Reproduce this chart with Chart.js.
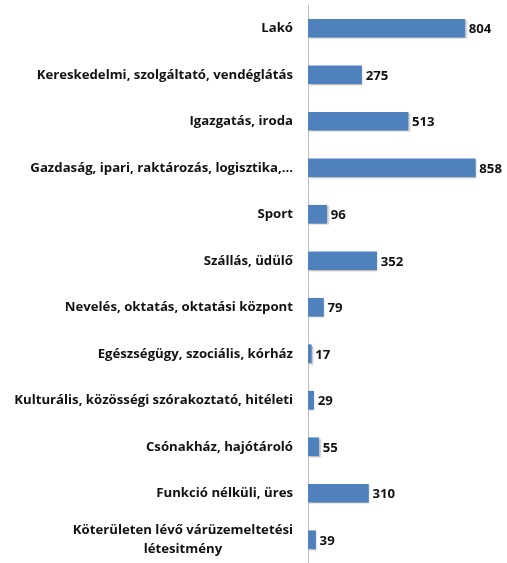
<!DOCTYPE html>
<html>
<head>
<meta charset="utf-8">
<script src="https://cdn.jsdelivr.net/npm/chart.js@4/dist/chart.umd.min.js"></script>
<style>
  html, body { margin: 0; padding: 0; background: #fff; }
  #wrap { width: 507px; height: 563px; }
</style>
</head>
<body>
<div id="wrap"><canvas id="chart1"></canvas></div>
<script>
const kategoriak = [
    'Lakó',
    'Kereskedelmi, szolgáltató, vendéglátás',
    'Igazgatás, iroda',
    'Gazdaság, ipari, raktározás, logisztika,…',
    'Sport',
    'Szállás, üdülő',
    'Nevelés, oktatás, oktatási központ',
    'Egészségügy, szociális, kórház',
    'Kulturális, közösségi szórakoztató, hitéleti',
    'Csónakház, hajótároló',
    'Funkció nélküli, üres',
    ['Köterületen lévő várüzemeltetési', 'létesitmény']
];
const darab = [804, 275, 513, 858, 96, 352, 79, 17, 29, 55, 310, 39];

const betu = 'bold 13.2px "Open Sans", sans-serif';

// kategórianevek (a többsoros középre igazítva) és az értékek kiírása
const feliratok = {
    id: 'feliratok',
    afterDraw(chart) {
        const ctx = chart.ctx;
        const y = chart.scales.y;
        ctx.save();
        ctx.font = betu;
        ctx.fillStyle = '#111';
        ctx.textBaseline = 'middle';
        kategoriak.forEach((nev, i) => {
            const py = y.getPixelForTick(i);
            const right = y.right - 15;
            if (Array.isArray(nev)) {
                const w = Math.max(...nev.map(s => ctx.measureText(s).width));
                const cx = right - w / 2;
                ctx.textAlign = 'center';
                nev.forEach((s, k) => ctx.fillText(s, cx, py + (k - (nev.length - 1) / 2) * 19));
            } else {
                ctx.textAlign = 'right';
                ctx.fillText(nev, right, py);
            }
        });
        const meta = chart.getDatasetMeta(0);
        ctx.textAlign = 'left';
        meta.data.forEach((bar, i) => {
            ctx.fillText(String(darab[i]), bar.x + 4, bar.y + 1);
        });
        ctx.restore();
    },
    beforeDatasetsDraw(chart) {
        const ctx = chart.ctx;
        ctx.save();
        ctx.shadowColor = 'rgba(0,0,0,0.25)';
        ctx.shadowOffsetX = 1.5;
        ctx.shadowOffsetY = 1.5;
        ctx.shadowBlur = 1.5;
    },
    afterDatasetsDraw(chart) {
        chart.ctx.restore();
    }
};

const ctx1 = document.getElementById('chart1').getContext('2d');
const chart1 = new Chart(ctx1, {
    type: 'bar',
    data: {
        labels: kategoriak,
        datasets: [{
            data: darab,
            backgroundColor: '#4F81BD',
            borderWidth: 0,
            barThickness: 18
        }]
    },
    options: {
        indexAxis: 'y',
        responsive: true,
        maintainAspectRatio: false,
        animation: false,
        layout: { padding: { top: 5, right: 4, bottom: 0, left: 0 } },
        plugins: {
            legend: { display: false },
            tooltip: { enabled: false }
        },
        scales: {
            x: {
                min: 0,
                max: 1000,
                display: false
            },
            y: {
                grid: { display: false },
                border: { display: true, color: '#bfbfbf', width: 1 },
                ticks: { display: false },
                afterFit(scale) { scale.width = 308; }
            }
        }
    },
    plugins: [feliratok]
});
</script>
</body>
</html>
